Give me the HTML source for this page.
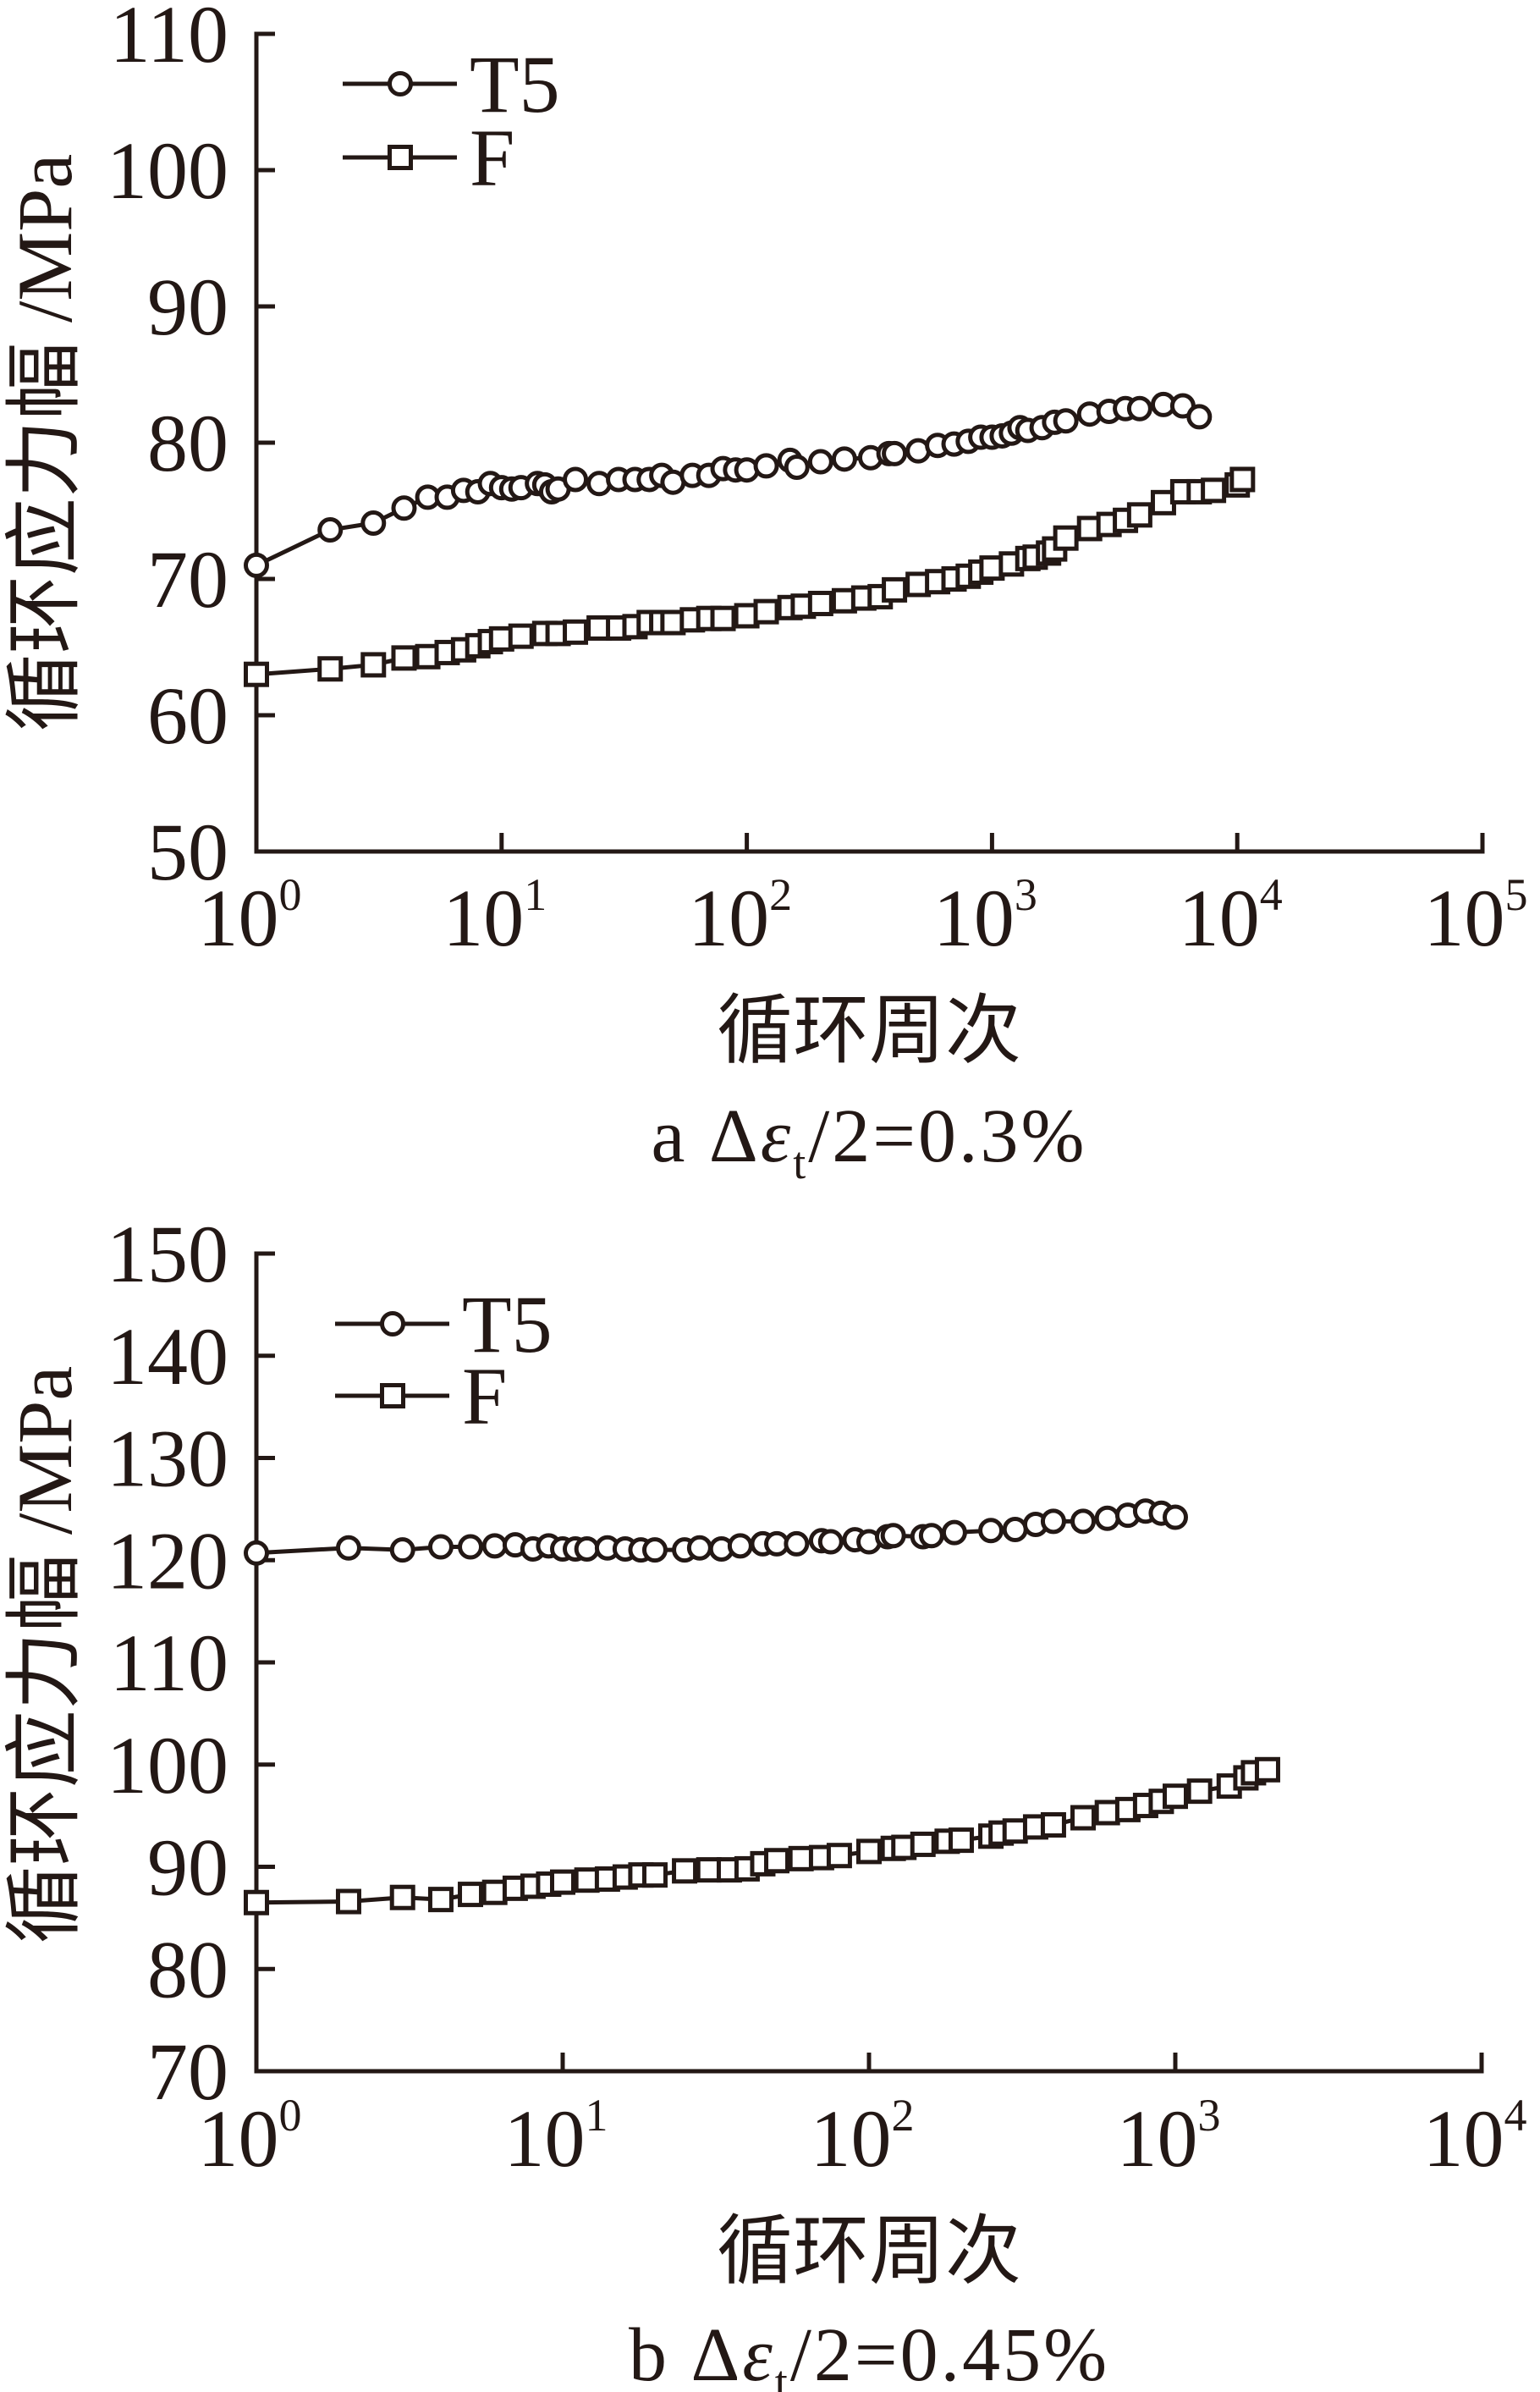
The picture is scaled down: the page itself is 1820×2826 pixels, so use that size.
<!DOCTYPE html>
<html><head><meta charset="utf-8"><style>
html,body{margin:0;padding:0;background:#fff}
svg{display:block}
text{font-family:"Liberation Serif","Noto Serif CJK SC",serif;fill:#231815}
.cj{font-family:"Liberation Serif","Noto Sans CJK SC",sans-serif}
</style></head><body>
<svg id="s" width="1820" height="2826" xmlns="http://www.w3.org/2000/svg"></svg>
<script>
const S=document.getElementById('s');let h='';
const C='#231815';
function chart(o){
 const X=n=>o.x0+Math.log10(n)*o.dec, Y=v=>o.yb-(v-o.vmin)*o.pu;
 const xr=o.x0+o.dec*o.nd, yt=Y(o.vmax);
 h+=`<path d="M${o.x0+22},${yt}H${o.x0}V${o.yb}H${xr}V${o.yb-22}" fill="none" stroke="${C}" stroke-width="5"/>`;
 for(let v=o.vmin;v<=o.vmax;v+=10){const y=Y(v);
  if(v>o.vmin&&v<o.vmax)h+=`<line x1="${o.x0}" y1="${y}" x2="${o.x0+22}" y2="${y}" stroke="${C}" stroke-width="5"/>`;
  h+=`<text x="270" y="${y+33}" font-size="96" text-anchor="end">${v}</text>`;}
 for(let i=0;i<=o.nd;i++){const x=o.x0+i*o.dec;
  if(i>0&&i<o.nd)h+=`<line x1="${x}" y1="${o.yb}" x2="${x}" y2="${o.yb-22}" stroke="${C}" stroke-width="5"/>`;
  h+=`<text x="${x-8}" y="${o.xlb}" font-size="96" text-anchor="middle">10<tspan font-size="54" dy="-42">${i}</tspan></text>`;}
 o.series.forEach(s=>{const pts=s.d.map(p=>[X(p[0]),Y(p[1])]);
  h+=`<polyline points="${pts.map(p=>p.join(',')).join(' ')}" fill="none" stroke="${C}" stroke-width="5"/>`;
  pts.forEach(p=>h+=mk(s.m,p[0],p[1]));});
 o.leg.forEach(l=>{h+=`<line x1="${o.lx}" y1="${l.y}" x2="${o.lx+135}" y2="${l.y}" stroke="${C}" stroke-width="5"/>`+mk(l.m,o.lx+68,l.y)+`<text x="${o.lx+150}" y="${l.y+33}" font-size="96">${l.t}</text>`;});
 h+=`<text class="cj" x="0" y="0" font-size="92" text-anchor="middle" transform="translate(${o.ylx},${o.ylc}) rotate(-90)">循环应力幅 /MPa</text>`;
 h+=`<text class="cj" x="1027" y="${o.tb}" font-size="90" text-anchor="middle">循环周次</text>`;
 h+=`<text x="1027" y="${o.cb}" font-size="90" text-anchor="middle" letter-spacing="3">${o.cap}</text>`;
}
function mk(m,x,y){return m=='o'?`<circle cx="${x}" cy="${y}" r="12.5" fill="#fff" stroke="${C}" stroke-width="5"/>`:`<rect x="${x-12.5}" y="${y-12.5}" width="25" height="25" fill="#fff" stroke="${C}" stroke-width="5"/>`;}
const P=s=>s.split(' ').map(t=>t.split(':').map(Number));
chart({x0:303,dec:289.8,nd:5,yb:1006,vmin:50,vmax:110,pu:16.1,lx:405,ylx:84,ylc:523,xlb:1117,tb:1248,cb:1372,
 cap:'a  Δ<tspan font-style="italic">ε</tspan><tspan font-size="54" dy="20">t</tspan><tspan dy="-20">/2=0.3%</tspan>',
 leg:[{y:99,m:'o',t:'T5'},{y:186,m:'s',t:'F'}],
 series:[{m:'o',d:P('1:71 2:73.6 3:74.1 4:75.2 5:76 6:76 7:76.5 8:76.4 9:77 10:76.7 11:76.6 12:76.7 14:77 15:76.9 16:76.4 17:76.6 20:77.3 25:77 30:77.3 35:77.3 40:77.3 45:77.6 50:77.1 60:77.6 70:77.6 80:78.1 90:78 100:78 120:78.3 150:78.7 160:78.2 200:78.6 250:78.8 320:78.9 380:79.2 400:79.2 500:79.4 600:79.8 700:79.9 800:80.1 900:80.4 1000:80.4 1100:80.5 1200:80.7 1300:81.1 1400:80.9 1600:81.1 1800:81.5 2000:81.6 2500:82.1 3000:82.3 3500:82.5 4000:82.5 5000:82.8 6000:82.7 7000:81.9')},
 {m:'s',d:P('1:63 2:63.4 3:63.7 4:64.2 5:64.3 6:64.6 7:64.8 8:65.1 9:65.4 10:65.6 12:65.8 15:66 17:66 20:66.1 25:66.4 30:66.4 35:66.5 40:66.8 45:66.8 50:66.8 60:67 70:67.1 80:67.1 100:67.3 120:67.6 150:67.9 170:68 200:68.2 250:68.4 300:68.6 350:68.7 400:69.2 500:69.6 600:69.8 700:70 800:70.2 900:70.5 1000:70.8 1200:71.1 1400:71.5 1500:71.6 1700:71.9 1800:72.2 2000:73 2500:73.7 3000:74 3500:74.3 4000:74.7 5000:75.6 6000:76.4 7000:76.4 8000:76.5 10000:76.9 10500:77.3')}]});
chart({x0:303,dec:362,nd:4,yb:2447,vmin:70,vmax:150,pu:12.075,lx:396,ylx:84,ylc:1955,xlb:2559,tb:2690,cb:2812,
 cap:'b  Δ<tspan font-style="italic">ε</tspan><tspan font-size="54" dy="20">t</tspan><tspan dy="-20">/2=0.45%</tspan>',
 leg:[{y:1564,m:'o',t:'T5'},{y:1649,m:'s',t:'F'}],
 series:[{m:'o',d:P('1:120.7 2:121.2 3:121 4:121.3 5:121.3 6:121.4 7:121.5 8:121.1 9:121.4 10:121.1 11:121.1 12:121.1 14:121.2 16:121.1 18:121 20:121 25:121 28:121.2 33:121.1 38:121.4 45:121.6 50:121.6 58:121.6 70:121.9 75:121.8 90:122 100:121.8 115:122.3 120:122.4 150:122.3 160:122.4 190:122.7 250:122.9 300:123 350:123.5 400:123.8 500:123.8 600:124.1 700:124.4 800:124.8 900:124.6 1000:124.2')},
 {m:'s',d:P('1:86.5 2:86.6 3:87 4:86.8 5:87.3 6:87.5 7:87.9 8:88.1 9:88.3 10:88.5 12:88.7 14:88.8 16:89 18:89.2 20:89.2 25:89.6 30:89.7 35:89.7 40:89.8 45:90.3 50:90.6 60:90.8 70:90.9 80:91.1 100:91.5 120:91.8 130:91.9 150:92.2 180:92.5 200:92.6 250:93 270:93.3 300:93.5 350:93.9 400:94.1 500:94.8 600:95.3 700:95.6 800:96 900:96.4 1000:96.9 1200:97.4 1500:97.9 1700:98.7 1800:99.2 2000:99.5')}]});
S.innerHTML=h;
</script>
</body></html>
